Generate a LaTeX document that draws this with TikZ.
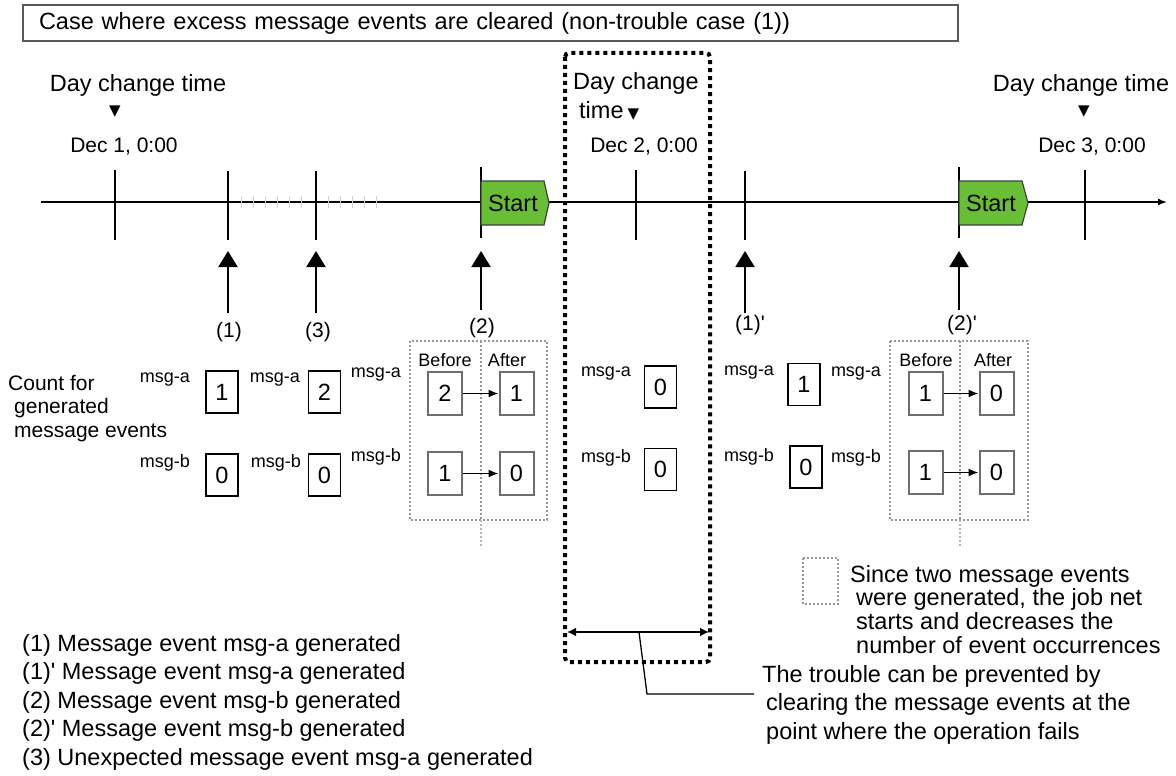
\documentclass[tikz,border=0pt]{standalone}
\usepackage{fontspec}
\setmainfont{Liberation Sans}
\newfontfamily\symfont{DejaVu Sans}
\usetikzlibrary{arrows.meta}

\definecolor{startgreen}{RGB}{104,190,52}
\definecolor{boxgray}{RGB}{110,110,110}
\definecolor{dotgray}{RGB}{150,150,150}

\tikzset{
  big/.style={font=\fontsize{23.5}{28.5}\selectfont, inner sep=0pt},
  mid/.style={font=\fontsize{21}{23.5}\selectfont, inner sep=0pt},
  small/.style={font=\fontsize{18}{20}\selectfont, inner sep=0pt},
  tri/.style={font=\symfont\fontsize{15}{15}\selectfont, inner sep=0pt},
  titlebox/.style={draw=black!65, line width=2pt, font=\fontsize{23.5}{28.5}\selectfont,
    anchor=north west, minimum height=36pt, inner xsep=16pt, inner ysep=0pt,
    text width=903pt, align=left},
  daytick/.style={line width=2pt},
  evtick/.style={line width=1.6pt},
  faint/.style={draw=black!18, line width=1pt},
  uparrow/.style={line width=2pt, -{Triangle[width=19pt,length=16pt]}},
  cnt/.style={draw=black, line width=1.5pt, minimum width=32pt, minimum height=42pt,
    inner sep=0pt, font=\fontsize{23.5}{28}\selectfont},
  cntg/.style={cnt, draw=boxgray, line width=2pt, minimum width=34pt, minimum height=43pt},
  decarrow/.style={line width=1.6pt, -{Latex[length=10pt,width=8pt]}},
  grp/.style={draw=dotgray, line width=2pt, dash pattern=on 2pt off 2pt},
  grpline/.style={draw=dotgray!70, line width=2pt, dash pattern=on 2pt off 2pt},
  trouble/.style={draw=black, line width=4pt, dash pattern=on 4pt off 4pt, rounded corners=4pt},
  startbox/.style={draw=black!75, fill=startgreen, line width=1.2pt},
}

\begin{document}
\begin{tikzpicture}[x=1pt,y=-1pt]
\useasboundingbox (0,0) rectangle (1176,776);

% heading
\node[titlebox] (title) at (22,4) {Case where excess message events are cleared (non-trouble case (1))};

% interval in which the operation fails
\draw[trouble] (565,53) rectangle (710,662);

% day change markers
\node[big] (dct1) at (138,85) {Day change time};
\node[tri] (tri1) at (115,112) {▼};
\node[mid] (dec1) at (124,147) {Dec 1, 0:00};

\node[big, anchor=west] (dct2) at (573,83) {Day change};
\node[big, anchor=west] (dct2b) at (579,111) {time\,{\symfont\fontsize{15}{15}\selectfont ▼}};
\node[mid] (dec2) at (644,147) {Dec 2, 0:00};

\node[big] (dct3) at (1081,85) {Day change time};
\node[tri] (tri3) at (1084,112) {▼};
\node[mid] (dec3) at (1092,147) {Dec 3, 0:00};

% time axis
\coordinate (ax0) at (41,202);
\coordinate (ax1) at (1167,202);
\draw[line width=1.6pt, -{Latex[length=9pt,width=7pt]}] (ax0) -- (ax1);

% faint ticks between (1) and (3)
\foreach \x in {241,253,265,277,289,301,328,340,352,364,376}
  \draw[faint] (\x,196) -- (\x,208);

% ticks on the axis
\foreach \x in {115,636,1085}
  \draw[daytick] (\x,170) -- (\x,240);
\foreach \x in {228,316,745}
  \draw[evtick] (\x,171) -- (\x,240);
\foreach \x in {481,959}
  \draw[evtick] (\x,167) -- (\x,238);

% job net start marks
\draw[startbox] (481,181) -- (544,181) -- (549,203) -- (544,225) -- (481,225) -- cycle;
\node[big] (start1) at (513,203) {Start};
\draw[startbox] (959,181) -- (1022,181) -- (1028,203) -- (1022,225) -- (959,225) -- cycle;
\node[big] (start2) at (991,203) {Start};

% message event arrivals
\foreach \n/\x/\yb in {e1/228/313, e3/316/313, e2/481/310, e1p/745/313, e2p/959/310} {
  \coordinate (\n b) at (\x,\yb);
  \coordinate (\n t) at (\x,251);
  \draw[uparrow] (\n b) -- (\n t);
}
\node[mid] (l1) at (229,332) {(1)};
\node[mid] (l3) at (318,332) {(3)};
\node[mid] (l2) at (482,328) {(2)};
\node[mid] (l1p) at (750,325) {(1)\textquotesingle};
\node[mid] (l2p) at (962,325) {(2)\textquotesingle};

% counter caption
\node[mid, anchor=north west, align=left] (cap) at (14,375)
  {\hspace*{-6pt}Count for\\generated\\message events};

% counters after (1)
\node[small] (ma1) at (165,380) {msg-a};
\node[small] (mb1) at (165,463) {msg-b};
\node[cnt] (ca1) at (222,392) {1};
\node[cnt] (cb1) at (222,475) {0};

% counters after (3)
\node[small] (ma3) at (275,380) {msg-a};
\node[small] (mb3) at (276,463) {msg-b};
\node[cnt] (ca3) at (324.5,392) {2};
\node[cnt] (cb3) at (324.5,475) {0};

% counters at (2)
\node[small] (ma2) at (376,375) {msg-a};
\node[small] (mb2) at (376,457) {msg-b};
\draw[grp] (410,341) rectangle (547,520);
\coordinate (g1t) at (481,341);
\coordinate (g1b) at (481,520);
\coordinate (g1e) at (481,548);
\draw[grp] (g1t) -- (g1b);
\draw[grpline] (g1b) -- (g1e);
\node[small] (bef1) at (445,360) {Before};
\node[small] (aft1) at (507,360) {After};
\node[cntg] (ba2) at (445,393.5) {2};
\node[cntg] (aa2) at (516.5,393.5) {1};
\node[cntg] (bb2) at (445,473.5) {1};
\node[cntg] (ab2) at (516.5,473.5) {0};
\draw[decarrow] (ba2) -- (aa2);
\draw[decarrow] (bb2) -- (ab2);

% counters after the day change
\node[small] (mam) at (606,374) {msg-a};
\node[small] (mbm) at (606,458) {msg-b};
\node[cnt] (cam) at (660.5,387) {0};
\node[cnt] (cbm) at (660.5,469.5) {0};

% counters after (1)'
\node[small] (ma1p) at (749,373) {msg-a};
\node[small] (mb1p) at (749,457) {msg-b};
\node[cnt] (ca1p) at (804,384.5) {1};
\node[cnt] (cb1p) at (806,467) {0};

% counters at (2)'
\node[small] (ma2p) at (856,374) {msg-a};
\node[small] (mb2p) at (856,458) {msg-b};
\draw[grp] (890,341) rectangle (1028,520);
\coordinate (g2t) at (960,341);
\coordinate (g2b) at (960,520);
\coordinate (g2e) at (960,548);
\draw[grp] (g2t) -- (g2b);
\draw[grpline] (g2b) -- (g2e);
\node[small] (bef2) at (926,360) {Before};
\node[small] (aft2) at (993,360) {After};
\node[cntg] (ba2p) at (925.5,393.5) {1};
\node[cntg] (aa2p) at (996.5,393.5) {0};
\node[cntg] (bb2p) at (925.5,472.5) {1};
\node[cntg] (ab2p) at (996.5,472.5) {0};
\draw[decarrow] (ba2p) -- (aa2p);
\draw[decarrow] (bb2p) -- (ab2p);

% key for the gray dotted frames
\draw[grp] (803,558) rectangle (838,604);
\node[big, anchor=north west, align=left,
  execute at begin node={\setlength{\baselineskip}{23.7pt}}] (key) at (856,565)
  {\hspace*{-6pt}Since two message events\\were generated, the job net\\starts and decreases the\\number of event occurrences};

% clearing span and its note
\coordinate (sp0) at (567,632);
\coordinate (sp1) at (709,632);
\draw[line width=2pt, {Latex[length=9pt,width=9pt]}-{Latex[length=9pt,width=9pt]}] (sp0) -- (sp1);
\coordinate (ld0) at (639,632);
\coordinate (ld1) at (647,694);
\coordinate (ld2) at (754,694);
\draw[line width=1.3pt] (ld0) -- (ld1) -- (ld2);
\node[big, anchor=north west, align=left] (note) at (766,665)
  {\hspace*{-4pt}The trouble can be prevented by\\clearing the message events at the\\point where the operation fails};

% legend
\node[big, anchor=north west, align=left] (legend) at (22,634)
  {(1) Message event msg-a generated\\
   (1)\textquotesingle{} Message event msg-a generated\\
   (2) Message event msg-b generated\\
   (2)\textquotesingle{} Message event msg-b generated\\
   (3) Unexpected message event msg-a generated};
\end{tikzpicture}
\end{document}
